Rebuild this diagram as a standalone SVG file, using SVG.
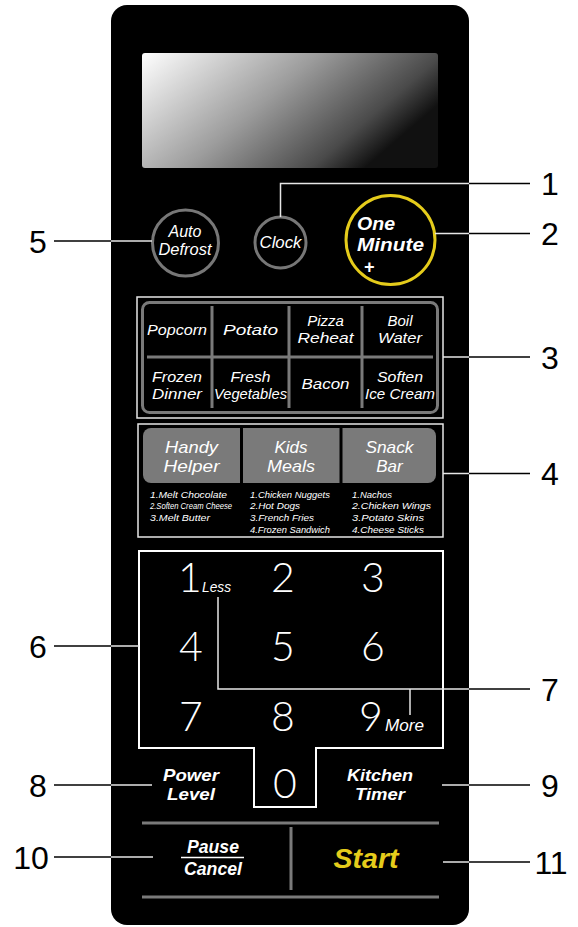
<svg xmlns="http://www.w3.org/2000/svg" width="578" height="927" viewBox="0 0 578 927">
<defs>
<linearGradient id="lcd" x1="0" y1="0" x2="1" y2="0.45">
<stop offset="0" stop-color="#ffffff"/>
<stop offset="0.5" stop-color="#9c9c9c"/>
<stop offset="0.85" stop-color="#4a4a4a"/>
<stop offset="1" stop-color="#111111"/>
</linearGradient>
<style>
.it{font-family:"Liberation Sans",Arial,sans-serif;font-style:italic;fill:#fff;text-anchor:middle}
.bi{font-family:"Liberation Sans",Arial,sans-serif;font-style:italic;font-weight:bold;fill:#fff;text-anchor:middle}
.sm{font-family:"Liberation Sans",Arial,sans-serif;font-style:italic;fill:#fff;font-size:9.5px}
.dg{font-family:"Lato","DejaVu Sans",sans-serif;font-weight:300;fill:#fff;font-size:41px;text-anchor:middle}
.num{font-family:"Liberation Sans",Arial,sans-serif;font-size:32px;fill:#000;text-anchor:middle}
.lo{stroke:#000;stroke-width:1.5;fill:none}
.li{stroke:#e6e6e6;stroke-width:1.5;fill:none}
.gr{stroke:#7a7a7a;stroke-width:3;fill:none}
</style>
</defs>
<rect width="578" height="927" fill="#fff"/>
<g id="panel">
<rect x="111" y="5" width="358" height="920" rx="16" fill="#000"/>
<rect x="142" y="53" width="296" height="115" rx="3" fill="url(#lcd)"/>
</g>
<g id="auto-defrost">
<circle cx="185.5" cy="243" r="33" fill="#000" stroke="#777" stroke-width="3"/>
<text class="it" x="185" y="237" font-size="16">Auto</text>
<text class="it" x="185" y="255" font-size="16" textLength="53" lengthAdjust="spacingAndGlyphs">Defrost</text>
</g>
<g id="clock">
<circle cx="280.5" cy="242.5" r="25.5" fill="#000" stroke="#777" stroke-width="3"/>
<text class="it" x="280.5" y="248" font-size="16" textLength="42" lengthAdjust="spacingAndGlyphs">Clock</text>
</g>
<g id="one-minute">
<circle cx="390.5" cy="240" r="44.5" fill="#000" stroke="#e5cc1b" stroke-width="3"/>
<text class="bi" x="357" y="230" font-size="18.5" style="text-anchor:start" textLength="38" lengthAdjust="spacingAndGlyphs">One</text>
<text class="bi" x="357" y="251" font-size="18.5" style="text-anchor:start" textLength="67" lengthAdjust="spacingAndGlyphs">Minute</text>
<text class="bi" x="369" y="273" font-size="18">+</text>
</g>
<g id="presets">
<rect x="137" y="297" width="306" height="121" fill="none" stroke="#e6e6e6" stroke-width="1.5"/>
<rect x="142.5" y="302.5" width="295" height="110" rx="7" class="gr"/>
<line x1="147" y1="357" x2="433" y2="357" class="gr"/>
<line x1="212" y1="306" x2="212" y2="408" class="gr"/>
<line x1="289" y1="306" x2="289" y2="408" class="gr"/>
<line x1="362" y1="306" x2="362" y2="408" class="gr"/>
<text class="it" x="177" y="335" font-size="15" textLength="60" lengthAdjust="spacingAndGlyphs">Popcorn</text>
<text class="it" x="250.5" y="335" font-size="15" textLength="55" lengthAdjust="spacingAndGlyphs">Potato</text>
<text class="it" x="325.5" y="326" font-size="15">Pizza</text>
<text class="it" x="325.5" y="343" font-size="15" textLength="56" lengthAdjust="spacingAndGlyphs">Reheat</text>
<text class="it" x="400" y="326" font-size="15">Boil</text>
<text class="it" x="400" y="343" font-size="15" textLength="44" lengthAdjust="spacingAndGlyphs">Water</text>
<text class="it" x="177" y="382" font-size="15" textLength="50" lengthAdjust="spacingAndGlyphs">Frozen</text>
<text class="it" x="177" y="399" font-size="15" textLength="50" lengthAdjust="spacingAndGlyphs">Dinner</text>
<text class="it" x="250.5" y="382" font-size="15" textLength="40" lengthAdjust="spacingAndGlyphs">Fresh</text>
<text class="it" x="250.5" y="399" font-size="15" textLength="73" lengthAdjust="spacingAndGlyphs">Vegetables</text>
<text class="it" x="325.5" y="389" font-size="15" textLength="48" lengthAdjust="spacingAndGlyphs">Bacon</text>
<text class="it" x="400" y="382" font-size="15" textLength="46" lengthAdjust="spacingAndGlyphs">Soften</text>
<text class="it" x="400" y="399" font-size="15" textLength="70" lengthAdjust="spacingAndGlyphs">Ice Cream</text>
</g>
<g id="sensor-menus">
<rect x="138" y="424" width="305" height="113" fill="none" stroke="#e6e6e6" stroke-width="1.5"/>
<rect x="143" y="428" width="293" height="55" rx="8" fill="#7a7a7a"/>
<rect x="240" y="428" width="3" height="55" fill="#000"/>
<rect x="339.5" y="428" width="3" height="55" fill="#000"/>
<text class="it" x="191.5" y="453" font-size="17" textLength="53" lengthAdjust="spacingAndGlyphs">Handy</text>
<text class="it" x="191.5" y="472" font-size="17" textLength="56" lengthAdjust="spacingAndGlyphs">Helper</text>
<text class="it" x="291" y="453" font-size="17">Kids</text>
<text class="it" x="291" y="472" font-size="17" textLength="48" lengthAdjust="spacingAndGlyphs">Meals</text>
<text class="it" x="389.5" y="453" font-size="17" textLength="48" lengthAdjust="spacingAndGlyphs">Snack</text>
<text class="it" x="389.5" y="472" font-size="17">Bar</text>
<text class="sm" x="150" y="497.5" textLength="77" lengthAdjust="spacingAndGlyphs">1.Melt Chocolate</text>
<text class="sm" x="150" y="509.2" font-size="8.8" textLength="82" lengthAdjust="spacingAndGlyphs">2.Soften Cream Cheese</text>
<text class="sm" x="150" y="520.9" textLength="60" lengthAdjust="spacingAndGlyphs">3.Melt Butter</text>
<text class="sm" x="250" y="497.5" textLength="80" lengthAdjust="spacingAndGlyphs">1.Chicken Nuggets</text>
<text class="sm" x="250" y="509.2" textLength="50" lengthAdjust="spacingAndGlyphs">2.Hot Dogs</text>
<text class="sm" x="250" y="520.9" textLength="64" lengthAdjust="spacingAndGlyphs">3.French Fries</text>
<text class="sm" x="250" y="532.6" textLength="80" lengthAdjust="spacingAndGlyphs">4.Frozen Sandwich</text>
<text class="sm" x="352" y="497.5" textLength="40" lengthAdjust="spacingAndGlyphs">1.Nachos</text>
<text class="sm" x="352" y="509.2" textLength="79" lengthAdjust="spacingAndGlyphs">2.Chicken Wings</text>
<text class="sm" x="352" y="520.9" textLength="72" lengthAdjust="spacingAndGlyphs">3.Potato Skins</text>
<text class="sm" x="352" y="532.6" textLength="72" lengthAdjust="spacingAndGlyphs">4.Cheese Sticks</text>
</g>
<g id="number-pad">
<path d="M139 551 H443 V748 H316 V807 H254 V748 H139 Z" fill="none" stroke="#fff" stroke-width="2"/>
<text class="dg" x="190" y="592">1</text>
<text class="it" x="202" y="592" font-size="14" style="text-anchor:start" textLength="29" lengthAdjust="spacingAndGlyphs">Less</text>
<text class="dg" x="283" y="592">2</text>
<text class="dg" x="373" y="592">3</text>
<text class="dg" x="191" y="661">4</text>
<text class="dg" x="283" y="661">5</text>
<text class="dg" x="373" y="661">6</text>
<text class="dg" x="191" y="731">7</text>
<text class="dg" x="283" y="731">8</text>
<text class="dg" x="371" y="731">9</text>
<text class="it" x="385" y="731" font-size="16" style="text-anchor:start" textLength="39" lengthAdjust="spacingAndGlyphs">More</text>
<text class="dg" x="285" y="798">0</text>
</g>
<g id="power-level">
<text class="bi" x="191" y="781" font-size="17" textLength="56" lengthAdjust="spacingAndGlyphs">Power</text>
<text class="bi" x="191" y="800" font-size="17" textLength="48" lengthAdjust="spacingAndGlyphs">Level</text>
</g>
<g id="kitchen-timer">
<text class="bi" x="380" y="781" font-size="17" textLength="66" lengthAdjust="spacingAndGlyphs">Kitchen</text>
<text class="bi" x="380" y="800" font-size="17" textLength="50" lengthAdjust="spacingAndGlyphs">Timer</text>
</g>
<g id="bottom-bar">
<line x1="142" y1="823" x2="439" y2="823" class="gr"/>
<line x1="142" y1="897" x2="439" y2="897" class="gr"/>
<line x1="291" y1="827" x2="291" y2="890" class="gr"/>
</g>
<g id="pause-cancel">
<line x1="181" y1="857.5" x2="244" y2="857.5" stroke="#fff" stroke-width="1.5"/>
<text class="bi" x="213" y="853" font-size="18" textLength="52" lengthAdjust="spacingAndGlyphs">Pause</text>
<text class="bi" x="213" y="875" font-size="18" textLength="58" lengthAdjust="spacingAndGlyphs">Cancel</text>
</g>
<g id="start">
<text class="bi" x="366" y="868" font-size="27" style="fill:#e5cc1b" textLength="65" lengthAdjust="spacingAndGlyphs">Start</text>
</g>
<g id="connectors">
<polyline class="li" points="280.5,217 280.5,183.5 469,183.5"/>
<line class="lo" x1="469" y1="183.5" x2="530" y2="183.5"/>
<line class="li" x1="435" y1="233.5" x2="469" y2="233.5"/>
<line class="lo" x1="469" y1="233.5" x2="530" y2="233.5"/>
<line class="li" x1="443" y1="357" x2="469" y2="357"/>
<line class="lo" x1="469" y1="357" x2="530" y2="357"/>
<line class="li" x1="443" y1="473.5" x2="469" y2="473.5"/>
<line class="lo" x1="469" y1="473.5" x2="530" y2="473.5"/>
<line class="lo" x1="54" y1="241" x2="111" y2="241"/>
<line class="li" x1="111" y1="241" x2="152" y2="241"/>
<line class="lo" x1="54" y1="646" x2="111" y2="646"/>
<line class="li" x1="111" y1="646" x2="139" y2="646"/>
<polyline class="li" points="218,597 218,689 469,689"/>
<line class="li" x1="410" y1="689" x2="410" y2="715"/>
<line class="lo" x1="469" y1="689" x2="530" y2="689"/>
<line class="lo" x1="54" y1="785" x2="111" y2="785"/>
<line class="li" x1="111" y1="785" x2="152" y2="785"/>
<line class="li" x1="442" y1="785" x2="469" y2="785"/>
<line class="lo" x1="469" y1="785" x2="530" y2="785"/>
<line class="lo" x1="54" y1="857" x2="111" y2="857"/>
<line class="li" x1="111" y1="857" x2="153" y2="857"/>
<line class="li" x1="443" y1="862" x2="469" y2="862"/>
<line class="lo" x1="469" y1="862" x2="530" y2="862"/>
</g>
<g id="labels">
<text class="num" x="550" y="195">1</text>
<text class="num" x="550" y="245">2</text>
<text class="num" x="550" y="369">3</text>
<text class="num" x="550" y="485">4</text>
<text class="num" x="38" y="253">5</text>
<text class="num" x="38" y="658">6</text>
<text class="num" x="550" y="701">7</text>
<text class="num" x="38" y="797">8</text>
<text class="num" x="550" y="797">9</text>
<text class="num" x="31" y="869">10</text>
<text class="num" x="551" y="874">11</text>
</g>
</svg>
